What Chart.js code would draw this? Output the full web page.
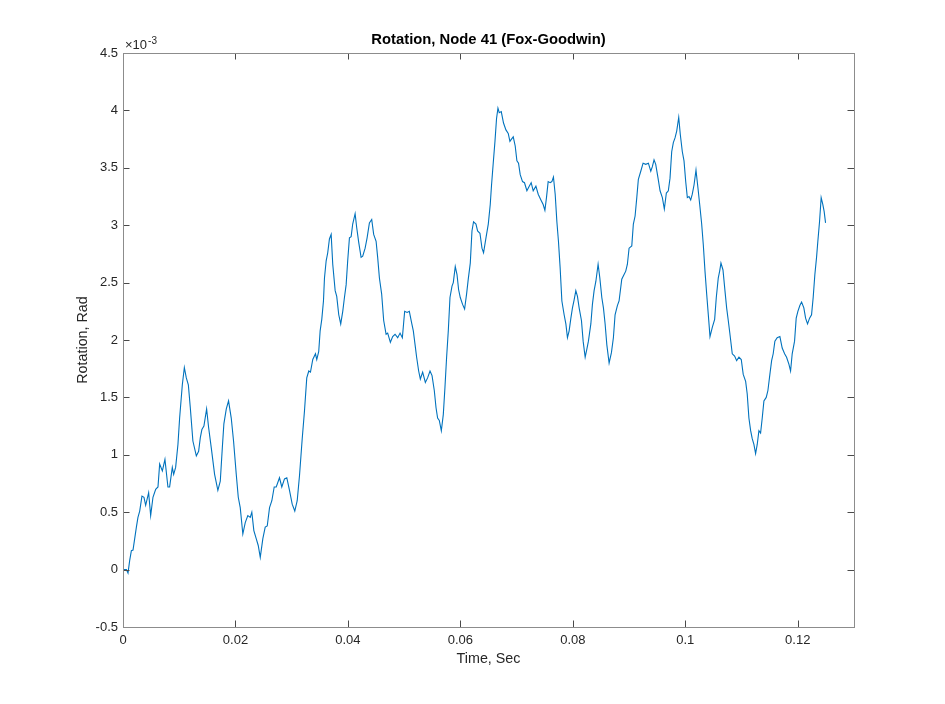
<!DOCTYPE html>
<html>
<head>
<meta charset="utf-8">
<title>Rotation, Node 41 (Fox-Goodwin)</title>
<script src="https://cdn.jsdelivr.net/npm/chart.js@4.4.1/dist/chart.umd.min.js"></script>
<style>
  html, body { margin: 0; padding: 0; background: #fff; }
  #wrap { width: 945px; height: 704px; }
</style>
</head>
<body>
<div id="wrap"><canvas id="rotChart"></canvas></div>
<script>
// time, seconds
var timeSec = [
  0, 0.0006, 0.00089, 0.00119, 0.00149, 0.00178, 0.00238, 0.00266, 0.00297, 0.00337,
  0.00373, 0.00403, 0.00456, 0.00492, 0.00533, 0.00581, 0.00622, 0.00652, 0.00700, 0.00746,
  0.00799, 0.00829, 0.00877, 0.00901, 0.00936, 0.00977, 0.01007, 0.01055, 0.01091, 0.01126,
  0.01162, 0.01197, 0.01243, 0.01304, 0.01345, 0.01375, 0.01403, 0.01439, 0.01487, 0.01522,
  0.01570, 0.01629, 0.01687, 0.01730, 0.01766, 0.01794, 0.01837, 0.01877, 0.01925, 0.01966,
  0.02014, 0.02050, 0.02085, 0.02131, 0.02174, 0.02220, 0.02263, 0.02291, 0.02327, 0.02369,
  0.02405, 0.02441, 0.02487, 0.02529, 0.02565, 0.02606, 0.02647, 0.02689, 0.02725, 0.02783,
  0.02824, 0.02872, 0.02913, 0.02961, 0.03009, 0.03055, 0.03098, 0.03139,
  0.03187, 0.03227, 0.03268, 0.03304, 0.03334, 0.03375, 0.03423, 0.03446, 0.03481, 0.03506,
  0.03535, 0.03565, 0.03583, 0.03613, 0.03641, 0.03671, 0.03702, 0.03730, 0.03773, 0.03801,
  0.03837, 0.03872, 0.03908, 0.03938, 0.03968, 0.03996, 0.04027, 0.04057, 0.04085, 0.04128,
  0.04156, 0.04192, 0.04234, 0.04263, 0.04306, 0.04341, 0.04382, 0.04423, 0.04458, 0.04501,
  0.04529, 0.04560, 0.04600, 0.04636, 0.04679, 0.04707, 0.04755, 0.04796, 0.04838, 0.04885,
  0.04927, 0.04968, 0.05009, 0.05052, 0.05092, 0.05133, 0.05163, 0.05194, 0.05222, 0.05258,
  0.05288, 0.05329, 0.05377, 0.05417, 0.05460, 0.05496, 0.05536, 0.05567, 0.05595, 0.05625,
  0.05661, 0.05696, 0.05726, 0.05755, 0.05785, 0.05815, 0.05851, 0.05874, 0.05909, 0.05940,
  0.05968, 0.05998, 0.06039, 0.06075, 0.06110, 0.06140, 0.06176, 0.06206, 0.06234, 0.06277,
  0.06306,
  0.06348, 0.06384, 0.06412, 0.06455, 0.06496, 0.06531, 0.06554, 0.06584, 0.06615, 0.06643,
  0.06668, 0.06691, 0.06727, 0.06767, 0.06810, 0.06851, 0.06881, 0.06909, 0.06940, 0.06975,
  0.07005, 0.07034, 0.07064, 0.07105, 0.07140, 0.07183, 0.07224, 0.07259, 0.07295, 0.07343,
  0.07384, 0.07432, 0.07472, 0.07503, 0.07531, 0.07561, 0.07597, 0.07627, 0.07655, 0.07686,
  0.07716, 0.07744, 0.07774, 0.07805, 0.07845, 0.07876, 0.07904, 0.07934, 0.07965, 0.07993,
  0.08023, 0.08053, 0.08082, 0.08112, 0.08153, 0.08183, 0.08219, 0.08249, 0.08277, 0.08320,
  0.08348, 0.08378, 0.08409, 0.08449, 0.08480, 0.08515, 0.08544, 0.08574, 0.08604, 0.08645,
  0.08686, 0.08721, 0.08751, 0.08792, 0.08822,
  0.08870, 0.08911, 0.08941, 0.08970, 0.09000, 0.09048, 0.09076, 0.09107, 0.09137, 0.09165,
  0.09208, 0.09249, 0.09297, 0.09343, 0.09386, 0.09414, 0.09444, 0.09474, 0.09515, 0.09551,
  0.09592, 0.09627, 0.09663, 0.09698, 0.09728, 0.09758, 0.09787, 0.09817, 0.09847, 0.09883,
  0.09911, 0.09947, 0.09977, 0.10007, 0.10036, 0.10066, 0.10096, 0.10124, 0.10155, 0.10190,
  0.10226, 0.10256, 0.10291, 0.10320, 0.10350, 0.10380, 0.10409, 0.10439, 0.10480, 0.10522,
  0.10551, 0.10586, 0.10611, 0.10634, 0.10670, 0.10705, 0.10735, 0.10764, 0.10794, 0.10835,
  0.10877, 0.10913, 0.10954, 0.10995, 0.11030, 0.11073, 0.11101, 0.11131, 0.11162, 0.11190,
  0.11220, 0.11250, 0.11279, 0.11309, 0.11339, 0.11368, 0.11398, 0.11439, 0.11469, 0.11504,
  0.11535, 0.11563, 0.11593, 0.11634, 0.11682, 0.11723, 0.11766, 0.11801, 0.11842, 0.11872,
  0.11901, 0.11943, 0.11972, 0.12002, 0.12037, 0.12068, 0.12108, 0.12139, 0.12174, 0.12210,
  0.12245, 0.12274, 0.12304, 0.12334, 0.12357, 0.12387, 0.12416, 0.12446, 0.12469, 0.12494
];

// rotation, in units of 1e-3 rad
var rotationE3 = [
  0, 0, -0.03, 0.08, 0.165, 0.17, 0.37, 0.455, 0.51, 0.64,
  0.63, 0.56, 0.67, 0.47, 0.63, 0.70, 0.72, 0.92, 0.86, 0.96,
  0.72, 0.72, 0.89, 0.83, 0.89, 1.09, 1.32, 1.61, 1.76, 1.67,
  1.61, 1.41, 1.12, 0.99, 1.03, 1.15, 1.22, 1.25, 1.40, 1.24,
  1.06, 0.83, 0.69, 0.77, 1.06, 1.27, 1.40, 1.47, 1.32, 1.12,
  0.83, 0.63, 0.54, 0.31, 0.41, 0.47, 0.455, 0.50, 0.34, 0.27,
  0.21, 0.107, 0.27, 0.37, 0.38, 0.54, 0.60, 0.72, 0.72, 0.80,
  0.72, 0.79, 0.80, 0.69, 0.57, 0.51, 0.60, 0.82,
  1.14, 1.38, 1.67, 1.73, 1.72, 1.83, 1.88, 1.83, 1.90, 2.08,
  2.18, 2.34, 2.54, 2.69, 2.76, 2.88, 2.92, 2.66, 2.43, 2.38,
  2.22, 2.14, 2.25, 2.37, 2.48, 2.69, 2.89, 2.90, 3.01, 3.10,
  2.98, 2.85, 2.72, 2.73, 2.80, 2.89, 3.02, 3.05, 2.92, 2.86,
  2.72, 2.54, 2.40, 2.17, 2.05, 2.06, 1.98, 2.03, 2.05, 2.02,
  2.06, 2.02, 2.25, 2.24, 2.25, 2.15, 2.08, 1.96, 1.85, 1.73,
  1.66, 1.72, 1.63, 1.67, 1.73, 1.69, 1.56, 1.41, 1.32, 1.30,
  1.21, 1.35, 1.59, 1.85, 2.08, 2.37, 2.47, 2.50, 2.64, 2.57,
  2.44, 2.37, 2.31, 2.27, 2.40, 2.53, 2.67, 2.95, 3.03, 3.01,
  2.95,
  2.93, 2.80, 2.76, 2.89, 3.01, 3.18, 3.35, 3.54, 3.73, 3.93,
  4.02, 3.98, 3.99, 3.89, 3.83, 3.80, 3.73, 3.75, 3.77, 3.69,
  3.56, 3.54, 3.44, 3.38, 3.37, 3.30, 3.34, 3.37, 3.30, 3.34,
  3.27, 3.22, 3.18, 3.13, 3.24, 3.38, 3.37, 3.38, 3.42, 3.27,
  3.03, 2.86, 2.63, 2.34, 2.22, 2.14, 2.02, 2.08, 2.19, 2.28,
  2.35, 2.43, 2.38, 2.28, 2.17, 1.99, 1.85, 1.92, 1.99, 2.14,
  2.31, 2.43, 2.51, 2.66, 2.54, 2.37, 2.28, 2.14, 1.96, 1.80,
  1.89, 2.02, 2.22, 2.30, 2.34,
  2.53, 2.57, 2.60, 2.66, 2.80, 2.82, 3.01, 3.08, 3.24, 3.40,
  3.47, 3.54, 3.53, 3.54, 3.47, 3.51, 3.57, 3.53, 3.41, 3.30,
  3.24, 3.14, 3.28, 3.30, 3.41, 3.64, 3.72, 3.76, 3.82, 3.94,
  3.79, 3.64, 3.56, 3.38, 3.24, 3.25, 3.22, 3.27, 3.35, 3.48,
  3.32, 3.18, 3.01, 2.83, 2.60, 2.40, 2.22, 2.03, 2.11, 2.18,
  2.37, 2.54, 2.60, 2.67, 2.61, 2.43, 2.28, 2.17, 2.05, 1.88,
  1.86, 1.82, 1.85, 1.83, 1.70, 1.64, 1.53, 1.32, 1.21, 1.14,
  1.09, 1.01, 1.09, 1.21, 1.19, 1.32, 1.47, 1.50, 1.56, 1.70,
  1.82, 1.88, 1.99, 2.02, 2.03, 1.93, 1.88, 1.85, 1.79, 1.73,
  1.88, 1.99, 2.19, 2.25, 2.30, 2.33, 2.28, 2.19, 2.14, 2.19,
  2.22, 2.37, 2.57, 2.72, 2.86, 3.03, 3.24, 3.18, 3.12, 3.02
];

var xTicks = [0, 0.02, 0.04, 0.06, 0.08, 0.1, 0.12];
var yTicks = [-0.5, 0, 0.5, 1, 1.5, 2, 2.5, 3, 3.5, 4, 4.5];

var titleText = 'Rotation, Node 41 (Fox-Goodwin)';
var xLabel = 'Time, Sec';
var yLabel = 'Rotation, Rad';
var yExponent = '-3';

var FONT = '"Liberation Sans", Arial, Helvetica, sans-serif';
var INK = '#262626';

var points = timeSec.map(function (t, i) { return { x: t, y: rotationE3[i] }; });

// ---- box, inward ticks on all sides, titles ----
var matlabFrame = {
  id: 'matlabFrame',
  afterDraw: function (chart) {
    var ctx = chart.ctx;
    var a = chart.chartArea;
    var xs = chart.scales.x;
    var ys = chart.scales.y;
    var len = 6.5;

    ctx.save();
    ctx.lineWidth = 1;
    ctx.strokeStyle = '#4a4a4a';
    ctx.beginPath();
    xs.ticks.forEach(function (t) {
      var px = Math.round(xs.getPixelForValue(t.value)) + 0.5;
      ctx.moveTo(px, a.bottom); ctx.lineTo(px, a.bottom - len);
      ctx.moveTo(px, a.top); ctx.lineTo(px, a.top + len);
    });
    ys.ticks.forEach(function (t) {
      var py = Math.round(ys.getPixelForValue(t.value)) + 0.5;
      ctx.moveTo(a.left, py); ctx.lineTo(a.left + len, py);
      ctx.moveTo(a.right, py); ctx.lineTo(a.right - len, py);
    });
    ctx.stroke();

    ctx.strokeStyle = '#8c8c8c';
    ctx.strokeRect(a.left + 0.5, a.top + 0.5, a.right - a.left, a.bottom - a.top);

    var cx = (a.left + a.right) / 2;
    ctx.fillStyle = '#000';
    ctx.textAlign = 'center';
    ctx.textBaseline = 'alphabetic';
    ctx.font = 'bold 14.8px ' + FONT;
    ctx.fillText(titleText, cx, 44);

    ctx.fillStyle = INK;
    ctx.font = '14.3px ' + FONT;
    ctx.fillText(xLabel, cx, 662.5);

    ctx.save();
    ctx.translate(86.5, (a.top + a.bottom) / 2);
    ctx.rotate(-Math.PI / 2);
    ctx.fillText(yLabel, 0, 0);
    ctx.restore();

    ctx.textAlign = 'left';
    ctx.font = '13px ' + FONT;
    var base = '\u00d710';
    ctx.fillText(base, a.left + 2, 49.3);
    var w = ctx.measureText(base).width;
    ctx.font = '10px ' + FONT;
    ctx.fillText(yExponent, a.left + 2 + w + 1, 43.5);
    ctx.restore();
  }
};

new Chart(document.getElementById('rotChart'), {
  type: 'line',
  data: {
    datasets: [{
      label: yLabel,
      data: points,
      borderColor: '#0072BD',
      borderWidth: 1.1,
      pointRadius: 0,
      tension: 0,
      fill: false
    }]
  },
  options: {
    responsive: true,
    maintainAspectRatio: false,
    animation: false,
    events: [],
    layout: { padding: { top: 53, right: 91, left: 0, bottom: 0 } },
    plugins: { legend: { display: false }, tooltip: { enabled: false } },
    scales: {
      x: {
        type: 'linear',
        min: 0,
        max: 0.13,
        grid: { display: false, drawTicks: false },
        border: { display: false },
        afterBuildTicks: function (s) { s.ticks = xTicks.map(function (v) { return { value: v }; }); },
        afterFit: function (s) { s.height = 77; },
        ticks: {
          autoSkip: false, maxRotation: 0, padding: 6,
          color: INK, font: { family: FONT, size: 13 },
          callback: function (v) { return String(v); }
        }
      },
      y: {
        type: 'linear',
        min: -0.5,
        max: 4.5,
        grid: { display: false, drawTicks: false },
        border: { display: false },
        afterBuildTicks: function (s) { s.ticks = yTicks.map(function (v) { return { value: v }; }); },
        afterFit: function (s) { s.width = 123; },
        ticks: {
          autoSkip: false, padding: 5,
          color: INK, font: { family: FONT, size: 13 },
          callback: function (v) { return String(v); }
        }
      }
    }
  },
  plugins: [matlabFrame]
});
</script>
</body>
</html>
